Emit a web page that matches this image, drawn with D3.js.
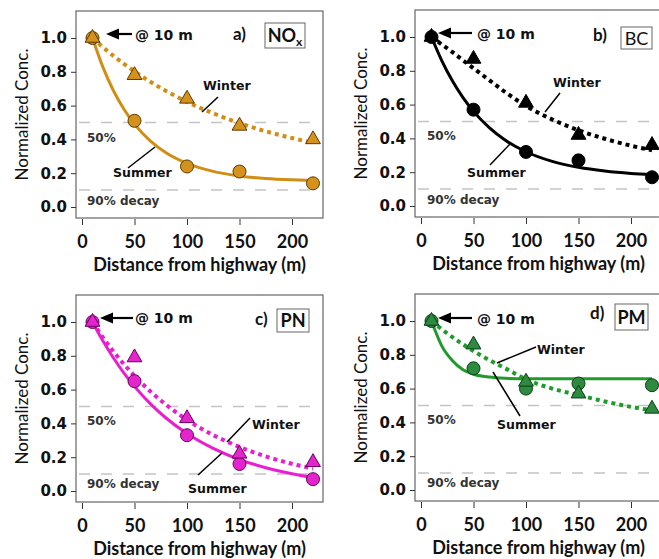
<!DOCTYPE html>
<html>
<head>
<meta charset="utf-8">
<script src="https://cdn.jsdelivr.net/npm/d3@7"></script>
<style>
	body { margin: 0; background: #fff; }
	svg { display: block; }
</style>
</head>
<body>
<div id="chart"></div>
<script>
// sampling distances (m) and axis ticks
const distances = [10, 50, 100, 150, 220];
const xTicks = [0, 50, 100, 150, 200];
const yTicks = [0, 0.2, 0.4, 0.6, 0.8, 1.0];
const refLevels = [0.5, 0.1];

// normalized concentrations
const noxWinter = [1.0, 0.78, 0.64, 0.48, 0.40];
const noxSummer = [1.0, 0.51, 0.24, 0.21, 0.14];
const bcWinter = [1.0, 0.87, 0.61, 0.42, 0.36];
const bcSummer = [1.0, 0.57, 0.32, 0.27, 0.17];
const pnWinter = [1.0, 0.79, 0.43, 0.22, 0.17];
const pnSummer = [1.0, 0.65, 0.33, 0.16, 0.07];
const pmWinter = [1.0, 0.86, 0.64, 0.57, 0.48];
const pmSummer = [1.0, 0.72, 0.60, 0.63, 0.62];

// fitted decay curves at these distances
const fitDist = [10, 20, 30, 40, 50, 65, 80, 100, 125, 150, 175, 200, 220];
const noxWinterFit = [1.0, 0.945, 0.894, 0.847, 0.802, 0.741, 0.687, 0.622, 0.554, 0.496, 0.448, 0.408, 0.38];
const noxSummerFit = [1.0, 0.826, 0.688, 0.578, 0.49, 0.391, 0.321, 0.258, 0.211, 0.184, 0.169, 0.161, 0.157];
const bcWinterFit = [1.0, 0.955, 0.91, 0.862, 0.815, 0.745, 0.675, 0.592, 0.512, 0.448, 0.398, 0.357, 0.33];
const bcSummerFit = [1.0, 0.857, 0.739, 0.641, 0.56, 0.464, 0.391, 0.321, 0.264, 0.229, 0.207, 0.193, 0.186];
const pnWinterFit = [1.0, 0.908, 0.825, 0.75, 0.681, 0.59, 0.511, 0.421, 0.331, 0.261, 0.205, 0.161, 0.133];
const pnSummerFit = [1.0, 0.887, 0.787, 0.698, 0.619, 0.517, 0.432, 0.34, 0.252, 0.186, 0.138, 0.102, 0.08];
const pmWinterFit = [1.0, 0.95, 0.904, 0.862, 0.822, 0.769, 0.721, 0.655, 0.6, 0.562, 0.524, 0.492, 0.471];
const pmSummerFit = [1.0, 0.85, 0.765, 0.712, 0.685, 0.668, 0.661, 0.658, 0.658, 0.658, 0.658, 0.658, 0.658];

const W = 659, H = 559;
const PW = 247, PH = 207;

const svg = d3.select('#chart').append('svg')
	.attr('width', W)
	.attr('height', H);

svg.append('rect').attr('width', W).attr('height', H).attr('fill', '#fff');

const DecayPanel = function (options) {
	this.o = options;
	this.g = svg.append('g')
		.attr('transform', 'translate(' + options.left + ',' + options.top + ')');
	this.x = d3.scaleLinear().domain([0, 200]).range([6, 216]);
	this.y = d3.scaleLinear().domain([0, 1]).range([196, 27]);
};

DecayPanel.prototype.axes = function () {
	const g = this.g, x = this.x, y = this.y;

	g.append('rect')
		.attr('width', PW).attr('height', PH)
		.attr('fill', 'none')
		.attr('stroke', '#666')
		.attr('stroke-width', 1.2);

	const ya = g.append('g')
		.call(d3.axisLeft(y).tickValues(yTicks).tickFormat(d3.format('.1f')).tickSize(5).tickPadding(4));
	ya.select('.domain').remove();
	ya.selectAll('line').attr('stroke', '#333');
	ya.selectAll('text')
		.attr('font-family', 'DejaVu Sans')
		.attr('font-weight', 'bold')
		.attr('font-size', 15)
		.attr('fill', '#111');

	const xa = g.append('g')
		.attr('transform', 'translate(0,' + (PH + 1) + ')')
		.call(d3.axisBottom(x).tickValues(xTicks).tickSize(6).tickPadding(10));
	xa.select('.domain').remove();
	xa.selectAll('line').attr('stroke', '#333');
	xa.selectAll('text')
		.attr('font-family', 'Lato')
		.attr('font-weight', 'bold')
		.attr('font-size', 18)
		.attr('fill', '#111');

	g.append('text')
		.attr('x', PW / 2)
		.attr('y', PH + 53)
		.attr('text-anchor', 'middle')
		.attr('font-family', 'Lato')
		.attr('font-weight', 'bold')
		.attr('font-size', 18)
		.attr('fill', '#111')
		.text('Distance from highway (m)');

	g.append('text')
		.attr('transform', 'translate(-48,' + (PH / 2) + ') rotate(-90)')
		.attr('text-anchor', 'middle')
		.attr('font-family', 'Lato')
		.attr('font-size', 17)
		.attr('fill', '#111')
		.text('Normalized Conc.');

	// 50% and 90% decay guides
	g.selectAll('.ref').data(refLevels).enter()
		.append('line')
		.attr('class', 'ref')
		.attr('x1', 3).attr('x2', PW - 2)
		.attr('y1', d => y(d)).attr('y2', d => y(d))
		.attr('stroke', '#c4c4c4')
		.attr('stroke-width', 1.5)
		.attr('stroke-dasharray', '11,11');
};

DecayPanel.prototype.series = function () {
	const g = this.g, x = this.x, y = this.y, o = this.o;

	const line = d3.line()
		.x((d, i) => x(fitDist[i]))
		.y(d => y(d))
		.curve(d3.curveMonotoneX);

	g.append('path')
		.attr('d', line(o.winterFit))
		.attr('fill', 'none')
		.attr('stroke', o.line)
		.attr('stroke-width', 4)
		.attr('stroke-dasharray', '4,4');

	g.append('path')
		.attr('d', line(o.summerFit))
		.attr('fill', 'none')
		.attr('stroke', o.line)
		.attr('stroke-width', 3);

	g.selectAll('.summer').data(o.summer).enter()
		.append('circle')
		.attr('class', 'summer')
		.attr('cx', (d, i) => x(distances[i]))
		.attr('cy', d => y(d))
		.attr('r', 6.5)
		.attr('fill', o.fill)
		.attr('stroke', o.edge)
		.attr('stroke-width', 1);

	const tri = d3.symbol().type(d3.symbolTriangle).size(95);
	g.selectAll('.winter').data(o.winter).enter()
		.append('path')
		.attr('class', 'winter')
		.attr('d', tri)
		.attr('transform', (d, i) => 'translate(' + x(distances[i]) + ',' + y(d) + ')')
		.attr('fill', o.fill)
		.attr('stroke', o.edge)
		.attr('stroke-width', 1);
};

DecayPanel.prototype.labels = function () {
	const g = this.g, a = this.o.anno;
	const bold = function (sel, size) {
		return sel.attr('font-family', 'DejaVu Sans').attr('font-weight', 'bold')
			.attr('font-size', size).attr('fill', '#111');
	};

	// arrow to the 10 m point
	g.append('line')
		.attr('x1', a.arrow[0] + 10).attr('y1', a.arrow[1])
		.attr('x2', a.arrow[2]).attr('y2', a.arrow[1])
		.attr('stroke', '#000').attr('stroke-width', 2.2);
	g.append('path')
		.attr('d', 'M' + a.arrow[0] + ',' + a.arrow[1] + 'l13,-5.5v11z')
		.attr('fill', '#000');
	bold(g.append('text'), 14).attr('x', a.at[0]).attr('y', a.at[1]).text('@ 10 m');

	// panel letter and species box
	g.append('text')
		.attr('x', a.tag[0]).attr('y', a.tag[1])
		.attr('font-family', 'Lato').attr('font-weight', 'bold')
		.attr('font-size', 17).attr('fill', '#111')
		.text(this.o.tag);
	g.append('rect')
		.attr('x', a.box[0]).attr('y', a.box[1])
		.attr('width', a.box[2]).attr('height', a.box[3])
		.attr('fill', '#fff').attr('stroke', '#666').attr('stroke-width', 1);
	const sp = g.append('text')
		.attr('x', a.box[0] + a.box[2] / 2)
		.attr('y', a.box[1] + a.box[3] / 2 + 6.5)
		.attr('text-anchor', 'middle')
		.attr('font-family', 'Lato')
		.attr('font-weight', this.o.spWeight)
		.attr('font-size', 18)
		.attr('fill', '#111');
	sp.append('tspan').text(this.o.species);
	if (this.o.sub) {
		sp.append('tspan').attr('dy', 4).attr('font-size', 12).text(this.o.sub);
	}

	bold(g.append('text'), 12.5).attr('x', a.winter[0]).attr('y', a.winter[1]).text('Winter');
	bold(g.append('text'), 12.5).attr('x', a.summer[0]).attr('y', a.summer[1]).text('Summer');
	[a.wLead, a.sLead].forEach(function (l) {
		g.append('line')
			.attr('x1', l[0]).attr('y1', l[1]).attr('x2', l[2]).attr('y2', l[3])
			.attr('stroke', '#000').attr('stroke-width', 1.5);
	});

	bold(g.append('text'), 12).attr('fill', '#333').attr('x', a.p50[0]).attr('y', a.p50[1]).text('50%');
	bold(g.append('text'), 12).attr('fill', '#333').attr('x', a.p90[0]).attr('y', a.p90[1]).text('90% decay');
};

DecayPanel.prototype.draw = function () {
	this.axes();
	this.series();
	this.labels();
};

const panels = [
	{
		tag: 'a)', species: 'NO', sub: 'x', spWeight: 'bold', left: 76, top: 11,
		line: '#D08E14', fill: '#D4921C', edge: '#5C3A00',
		winter: noxWinter, summer: noxSummer, winterFit: noxWinterFit, summerFit: noxSummerFit,
		anno: {
			arrow: [30, 23, 56], at: [59, 29], tag: [157, 29], box: [189, 12, 40, 25],
			winter: [127, 79], wLead: [142, 86, 126, 101],
			summer: [37, 166], sLead: [52, 157, 79, 136],
			p50: [11, 131], p90: [11, 194]
		}
	},
	{
		tag: 'b)', species: 'BC', spWeight: 'normal', left: 415, top: 10,
		line: '#000', fill: '#000', edge: '#000',
		winter: bcWinter, summer: bcSummer, winterFit: bcWinterFit, summerFit: bcSummerFit,
		anno: {
			arrow: [23, 23, 57], at: [62, 29], tag: [178, 31], box: [206, 17, 31, 22],
			winter: [138, 77], wLead: [145, 83, 130, 102],
			summer: [52, 167], sLead: [75, 155, 95, 134],
			p50: [12, 130], p90: [12, 194]
		}
	},
	{
		tag: 'c)', species: 'PN', spWeight: 'bold', left: 76, top: 295,
		line: '#E81ECF', fill: '#E424CC', edge: '#6A0060',
		winter: pnWinter, summer: pnSummer, winterFit: pnWinterFit, summerFit: pnSummerFit,
		anno: {
			arrow: [24, 23, 57], at: [59, 28], tag: [179, 30], box: [201, 14, 32, 23],
			winter: [176, 134], wLead: [174, 123, 151, 147],
			summer: [112, 198], sLead: [122, 180, 146, 158],
			p50: [11, 130], p90: [11, 193]
		}
	},
	{
		tag: 'd)', species: 'PM', spWeight: 'bold', left: 415, top: 294,
		line: '#1F9B2C', fill: '#2E8A3E', edge: '#0C3F16',
		winter: pmWinter, summer: pmSummer, winterFit: pmWinterFit, summerFit: pmSummerFit,
		anno: {
			arrow: [23, 24, 57], at: [62, 30], tag: [175, 25], box: [200, 10, 33, 26],
			winter: [122, 60], wLead: [121, 53, 82, 69],
			summer: [82, 135], sLead: [105, 122, 78, 78],
			p50: [12, 130], p90: [12, 193]
		}
	}
];

panels.forEach(function (p) {
	new DecayPanel(p).draw();
});
</script>
</body>
</html>
